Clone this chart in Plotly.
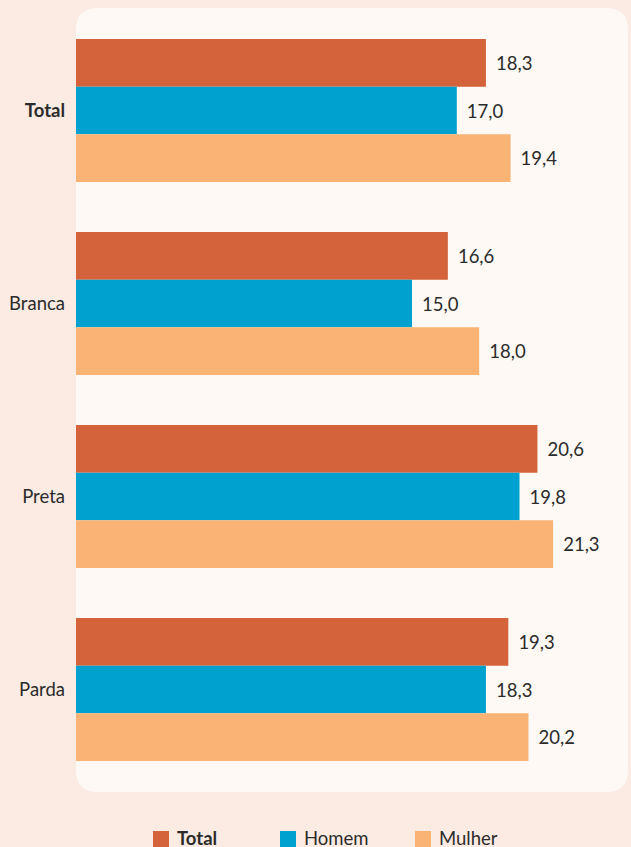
import plotly.graph_objects as go

categories = ["Total", "Branca", "Preta", "Parda"]
tick_labels = ["<b>Total</b>", "Branca", "Preta", "Parda"]
series_names = ["Total", "Homem", "Mulher"]
total_vals = [18.3, 16.6, 20.6, 19.3]
homem_vals = [17.0, 15.0, 19.8, 18.3]
mulher_vals = [19.4, 18.0, 21.3, 20.2]
colors = ["#D4623A", "#00A0CF", "#F8B375"]

W, H = 631, 847
L, R, T, B = 76, 3, 14, 61
pw, ph = W - L - R, H - T - B
FONT = "Lato"
TXT = "#2b2b2b"
FS = 18.5

def px_x(p):
    return (p - L) / pw

def px_y(p):
    return (H - B - p) / ph

fig = go.Figure()
for name, vals, col in zip(series_names, [total_vals, homem_vals, mulher_vals], colors):
    fig.add_trace(go.Bar(
        y=categories, x=vals, name=name, orientation="h",
        marker=dict(color=col, line=dict(width=0)),
        texttemplate=" \u2009%{x:.1f}", textposition="outside",
        textfont=dict(size=FS, color=TXT, family=FONT),
        cliponaxis=False, showlegend=False, hoverinfo="skip",
    ))

# rounded panel behind plot
x0, x1 = px_x(76), px_x(628)
y0, y1 = px_y(792), px_y(8)
rx, ry = 22 / pw, 22 / ph
path = (f"M {x0+rx},{y1} L {x1-rx},{y1} Q {x1},{y1} {x1},{y1-ry} "
        f"L {x1},{y0+ry} Q {x1},{y0} {x1-rx},{y0} L {x0+rx},{y0} "
        f"Q {x0},{y0} {x0},{y0+ry} L {x0},{y1-ry} Q {x0},{y1} {x0+rx},{y1} Z")
shapes = [dict(type="path", path=path, xref="paper", yref="paper",
               fillcolor="#FEF9F4", line=dict(width=0), layer="below")]

# manual legend
legend_x = [153, 280, 415]
annotations = []
for name, col, lx in zip(series_names, colors, legend_x):
    shapes.append(dict(type="rect", xref="paper", yref="paper",
                       x0=px_x(lx), x1=px_x(lx + 16), y0=px_y(847), y1=px_y(831),
                       fillcolor=col, line=dict(width=0)))
    annotations.append(dict(xref="paper", yref="paper", x=px_x(lx + 22), y=px_y(838),
                            xanchor="left", yanchor="middle", showarrow=False,
                            text=f"<b>{name}</b>" if name == "Total" else name,
                            font=dict(size=FS, color=TXT, family=FONT)))

fig.update_layout(
    width=W, height=H,
    margin=dict(l=L, r=R, t=T, b=B, pad=0),
    paper_bgcolor="#FCEBE2", plot_bgcolor="rgba(0,0,0,0)",
    barmode="group", bargap=0.26, bargroupgap=0,
    separators=",.",
    font=dict(family=FONT, color=TXT),
    shapes=shapes, annotations=annotations,
    xaxis=dict(range=[0, pw / 22.4], visible=False, fixedrange=True),
    yaxis=dict(range=[3.5, -0.5], tickmode="array", tickvals=categories, ticktext=tick_labels,
               tickfont=dict(size=FS, color=TXT, family=FONT), showgrid=False, zeroline=False,
               showline=False, ticks="", ticklabelstandoff=10, fixedrange=True),
)

fig.write_html("out.html", config={"displayModeBar": False},
               post_script="document.body.style.margin='0';document.body.style.overflow='hidden';")
